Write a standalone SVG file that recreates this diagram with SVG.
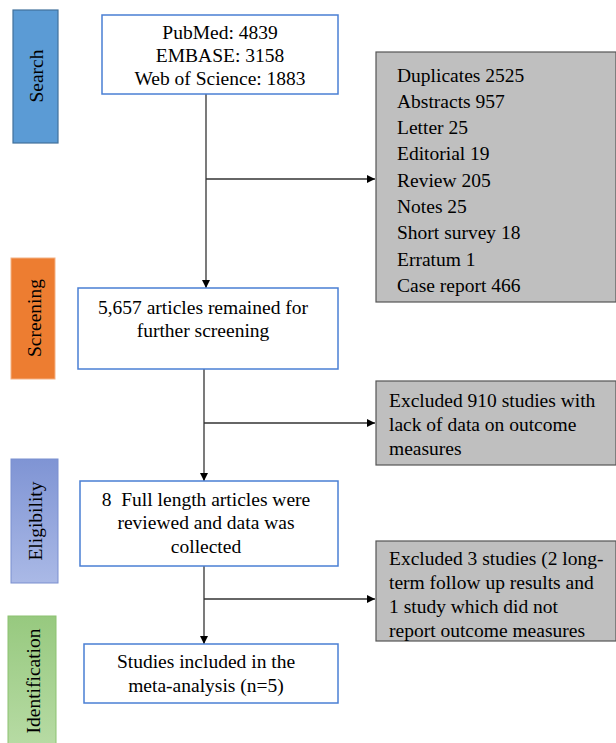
<svg xmlns="http://www.w3.org/2000/svg" width="616" height="743" viewBox="0 0 616 743">
<defs>
<marker id="arr" viewBox="0 0 10 10" refX="10" refY="5" markerWidth="8" markerHeight="8" markerUnits="userSpaceOnUse" orient="auto">
<path d="M0,0 L10,5 L0,10 z" fill="#000"/>
</marker>
<linearGradient id="gElig" x1="0" y1="0" x2="0" y2="1">
<stop offset="0" stop-color="#7f94d4"/>
<stop offset="1" stop-color="#aab9e6"/>
</linearGradient>
<linearGradient id="gIdent" x1="0" y1="0" x2="0" y2="1">
<stop offset="0" stop-color="#97c97f"/>
<stop offset="1" stop-color="#b7dba4"/>
</linearGradient>
</defs>
<style>
text { font-size: 19.5px; fill: #000; }
.c { text-anchor: middle; }
.node { fill: #fff; stroke: #4a7fd4; stroke-width: 1.5; }
.gray { fill: #bfbfbf; stroke: #555; stroke-width: 1.2; }
.conn { stroke: #333; stroke-width: 1.3; fill: none; }
</style>
<rect width="616" height="743" fill="#fff"/>
<g font-family="Liberation Serif, DejaVu Serif, serif">
<g id="stage-search">
<rect x="13" y="10" width="45" height="133" fill="#5b9bd5" stroke="#41719c" stroke-width="1.2"/>
<text class="c" transform="translate(43,76) rotate(-90)">Search</text>
</g>
<g id="stage-screening">
<rect x="11" y="258" width="44" height="121" fill="#ed7d31" stroke="#f4b183" stroke-width="1"/>
<text class="c" transform="translate(41,318) rotate(-90)">Screening</text>
</g>
<g id="stage-eligibility">
<rect x="11" y="459" width="47" height="124" fill="url(#gElig)" stroke="#7a8fcf" stroke-width="1"/>
<text class="c" transform="translate(42,521) rotate(-90)">Eligibility</text>
</g>
<g id="stage-identification">
<rect x="8" y="616" width="48" height="130" fill="url(#gIdent)" stroke="#8cc270" stroke-width="1"/>
<text class="c" transform="translate(40,681) rotate(-90)">Identification</text>
</g>

<g id="connectors">
<line class="conn" x1="206" y1="94" x2="206" y2="288" marker-end="url(#arr)"/>
<line class="conn" x1="206" y1="179" x2="375" y2="179" marker-end="url(#arr)"/>
<line class="conn" x1="204" y1="369" x2="204" y2="481" marker-end="url(#arr)"/>
<line class="conn" x1="204" y1="423" x2="375" y2="423" marker-end="url(#arr)"/>
<line class="conn" x1="204" y1="566" x2="204" y2="644" marker-end="url(#arr)"/>
<line class="conn" x1="204" y1="599" x2="375" y2="599" marker-end="url(#arr)"/>
</g>

<g id="n-search">
<rect class="node" x="102" y="15" width="236" height="79"/>
<text class="c" x="220" y="39">PubMed: 4839</text>
<text class="c" x="220" y="62">EMBASE: 3158</text>
<text class="c" x="220" y="85">Web of Science: 1883</text>
</g>

<g id="n-excluded1">
<rect class="gray" x="376" y="52" width="240" height="250"/>
<text x="397" y="82">Duplicates 2525</text>
<text x="397" y="108">Abstracts 957</text>
<text x="397" y="134">Letter 25</text>
<text x="397" y="160">Editorial 19</text>
<text x="397" y="187">Review 205</text>
<text x="397" y="213">Notes 25</text>
<text x="397" y="239">Short survey 18</text>
<text x="397" y="266">Erratum 1</text>
<text x="397" y="292">Case report 466</text>
</g>

<g id="n-screening">
<rect class="node" x="78" y="288" width="260" height="81"/>
<text class="c" x="203" y="314">5,657 articles remained for</text>
<text class="c" x="203" y="337">further screening</text>
</g>

<g id="n-excluded2">
<rect class="gray" x="376" y="381" width="240" height="84"/>
<text x="389" y="407">Excluded 910 studies with</text>
<text x="389" y="431">lack of data on outcome</text>
<text x="389" y="455">measures</text>
</g>

<g id="n-eligibility">
<rect class="node" x="80" y="481" width="258" height="85"/>
<text class="c" x="206" y="506">8&#160; Full length articles were</text>
<text class="c" x="206" y="529">reviewed and data was</text>
<text class="c" x="206" y="553">collected</text>
</g>

<g id="n-excluded3">
<rect class="gray" x="376" y="541" width="240" height="100"/>
<text x="389" y="565">Excluded 3 studies (2 long-</text>
<text x="389" y="589">term follow up results and</text>
<text x="389" y="613">1 study which did not</text>
<text x="389" y="637">report outcome measures</text>
</g>

<g id="n-included">
<rect class="node" x="84" y="644" width="254" height="59"/>
<text class="c" x="206" y="668">Studies included in the</text>
<text class="c" x="206" y="692">meta-analysis (n=5)</text>
</g>
</g>
</svg>
